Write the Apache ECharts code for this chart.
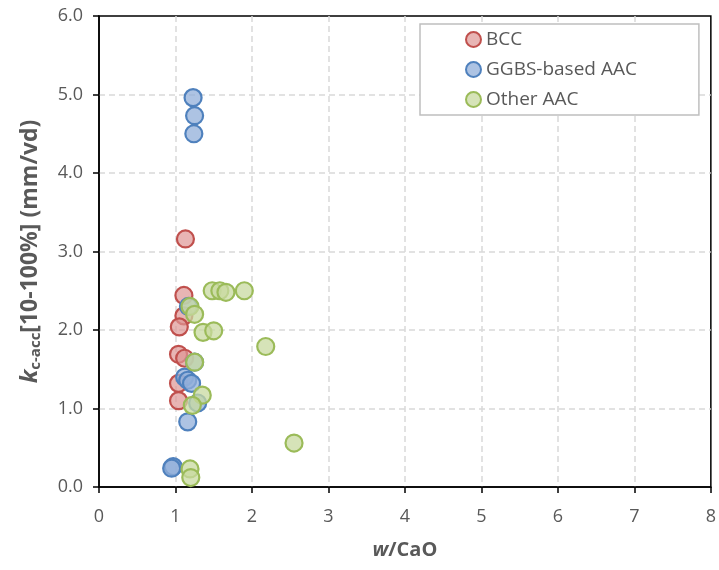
<!DOCTYPE html>
<html><head><meta charset="utf-8">
<script src="https://cdn.jsdelivr.net/npm/echarts@6/dist/echarts.min.js"></script>
<style>html,body{margin:0;padding:0;background:#fff}#c{width:719px;height:570px}</style>
</head><body><div id="c"></div>
<script>
// w/CaO, k_c-acc pairs
const bccX = [1.13, 1.11, 1.11, 1.05, 1.04, 1.12, 1.04, 1.04];
const bccY = [3.16, 2.44, 2.18, 2.04, 1.69, 1.64, 1.32, 1.10];
const ggbsX = [1.23, 1.25, 1.24, 1.17, 1.12, 1.16, 1.21, 1.25, 1.29, 1.16, 0.97, 0.95];
const ggbsY = [4.96, 4.73, 4.50, 2.30, 1.40, 1.36, 1.32, 1.59, 1.07, 0.83, 0.26, 0.24];
const otherX = [1.48, 1.58, 1.66, 1.90, 1.19, 1.25, 1.36, 1.50, 2.18, 1.25, 1.35, 1.22, 1.19, 1.20, 2.55];
const otherY = [2.50, 2.50, 2.48, 2.50, 2.30, 2.20, 1.97, 1.99, 1.79, 1.59, 1.17, 1.04, 0.23, 0.12, 0.56];
const seriesNames = ['BCC', 'GGBS-based AAC', 'Other AAC'];
const xTicks = [0, 1, 2, 3, 4, 5, 6, 7, 8];
const yTicks = [0, 1, 2, 3, 4, 5, 6];

const zip = (xs, ys) => xs.map((x, i) => [x, ys[i]]);
const mk = (name, xs, ys, fill, border) => ({
  name, type: 'scatter', data: zip(xs, ys), symbol: 'circle', symbolSize: 17,
  itemStyle: { color: fill, borderColor: border, borderWidth: 2.2, opacity: 1 },
  emphasis: { disabled: true }
});
const chart = echarts.init(document.getElementById('c'));
const lblColor = '#595959';
const FF = '"Open Sans", "Liberation Sans", sans-serif';
chart.setOption({
  animation: false,
  backgroundColor: '#fff',
  grid: { left: 99, right: 7, top: 16, bottom: 83, show: true, borderColor: '#000', borderWidth: 1.5 },
  legend: {
    orient: 'vertical', left: 420, top: 24,
    data: seriesNames,
    itemWidth: 15, itemHeight: 15, itemGap: 11, icon: 'circle',
    padding: [6, 62, 6, 45],
    borderColor: '#bfbfbf', borderWidth: 1.5, backgroundColor: '#fff',
    textStyle: { color: lblColor, fontSize: 19, fontFamily: FF }
  },
  xAxis: {
    type: 'value', min: xTicks[0], max: xTicks[xTicks.length - 1], interval: 1,
    axisLine: { lineStyle: { color: '#000', width: 1.5 } },
    axisTick: { show: true, length: 6, lineStyle: { color: '#000', width: 1.5 } },
    splitLine: { showMinLine: false, showMaxLine: false, lineStyle: { color: '#d9d9d9', type: [6, 4], width: 1.5 } },
    axisLabel: { color: lblColor, fontSize: 18, fontFamily: FF, margin: 21 },
    name: '{i|w}{n|/CaO}', nameLocation: 'middle', nameGap: 53,
    nameTextStyle: { rich: {
      i: { fontStyle: 'italic', fontWeight: 'bold', fontSize: 20, color: lblColor, fontFamily: FF },
      n: { fontWeight: 'bold', fontSize: 20, color: lblColor, fontFamily: FF } } }
  },
  yAxis: {
    type: 'value', min: yTicks[0], max: yTicks[yTicks.length - 1], interval: 1,
    axisLine: { show: true, lineStyle: { color: '#000', width: 1.5 } },
    axisTick: { show: true, length: 6, lineStyle: { color: '#000', width: 1.5 } },
    splitLine: { showMinLine: false, showMaxLine: false, lineStyle: { color: '#d9d9d9', type: [6, 4], width: 1.5 } },
    axisLabel: { color: lblColor, fontSize: 18, fontFamily: FF, margin: 16, formatter: v => v.toFixed(1) },
    name: '{i|k}{s|c-acc}{n|[10-100%] (mm/vd)}', nameLocation: 'middle', nameGap: 56, nameRotate: 90,
    nameTextStyle: { rich: {
      i: { fontStyle: 'italic', fontWeight: 'bold', fontSize: 24, color: lblColor, fontFamily: FF },
      s: { fontWeight: 'bold', fontSize: 15, color: lblColor, fontFamily: FF, padding: [10, 0, 0, 0] },
      n: { fontWeight: 'bold', fontSize: 23, color: lblColor, fontFamily: FF } } }
  },
  series: [
    mk('BCC', bccX, bccY, 'rgba(222,150,148,0.7)', '#c0504d'),
    mk('GGBS-based AAC', ggbsX, ggbsY, 'rgba(145,175,218,0.75)', '#4f81bd'),
    mk('Other AAC', otherX, otherY, 'rgba(200,218,160,0.75)', '#9bbb59')
  ]
});
</script></body></html>
